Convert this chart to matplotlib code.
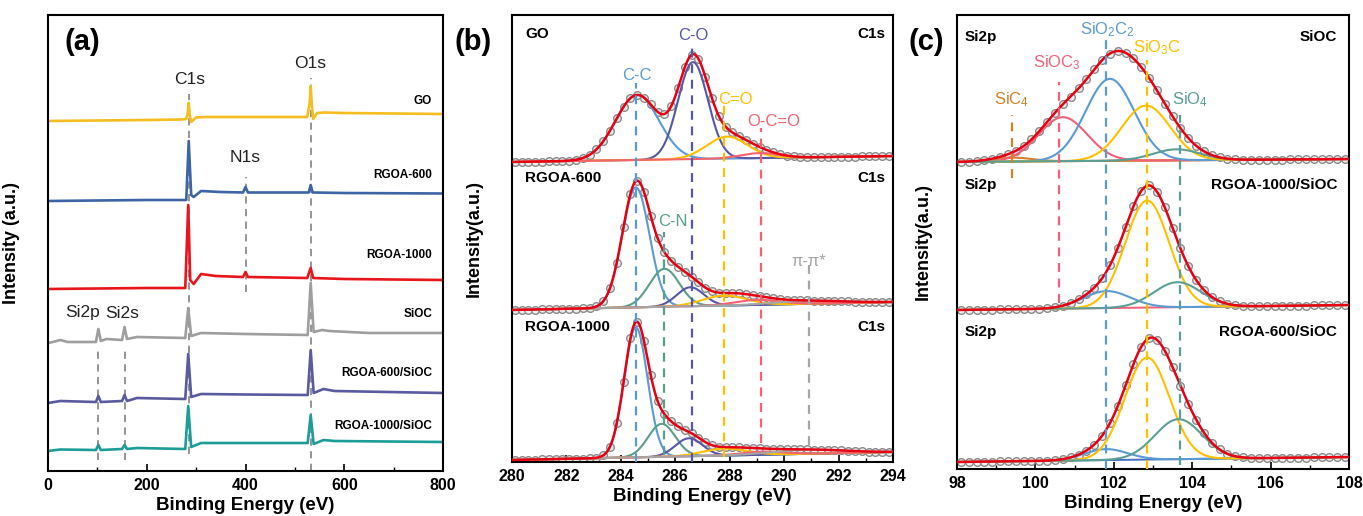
import numpy as np
import matplotlib
matplotlib.use("Agg")
import matplotlib.pyplot as plt
from matplotlib.ticker import MultipleLocator

plt.rcParams["font.family"] = ["Liberation Sans", "DejaVu Sans"]
plt.rcParams["mathtext.default"] = "regular"

# ---------------- (a) survey spectra (intensity in arbitrary units) ----------------
SURVEY_NAMES = ["GO", "RGOA-600", "RGOA-1000", "SiOC", "RGOA-600/SiOC", "RGOA-1000/SiOC"]
SURVEY_COLORS = ["#F5BD1F", "#3D65A5", "#E8161B", "#9E9E9E", "#5A5AA0", "#1C9D97"]
GO_X = [0, 100, 200, 270, 280, 283, 285, 287, 290, 300, 320, 400, 500, 525, 530, 532,
        534, 537, 545, 560, 600, 700, 800]
GO_Y = [350, 350.5, 351, 351.5, 352, 358, 368, 356, 349, 353.5, 354, 354, 354, 354, 368,
        385, 368, 352, 358, 358.5, 358, 357.5, 357]
R600_X = [0, 200, 280, 285, 290, 295, 310, 350, 395, 400, 405, 528, 532, 536, 600, 800]
R600_Y = [270, 271, 271, 330, 276, 274, 280, 279, 278.5, 284, 278.5, 278.5, 286, 278.5,
          278, 277.5]
R1000_X = [0, 200, 278, 284, 288, 295, 310, 340, 395, 400, 405, 525, 532, 537, 600, 800]
R1000_Y = [182, 183, 183, 266, 191, 187, 197, 195, 194, 199, 194, 193, 203, 193, 192, 191]
SIOC_X = [0, 10, 25, 40, 97, 102, 107, 118, 150, 155, 160, 180, 278, 284, 290, 310, 400,
          526, 532, 538, 555, 570, 650, 800]
SIOC_Y = [128, 129, 131, 129, 129, 142, 130, 132, 131, 144, 132, 134, 133, 163, 135, 138,
          137, 136, 188, 139, 141, 140, 138, 138]
R600S_X = [0, 25, 97, 102, 107, 150, 155, 160, 180, 278, 284, 290, 310, 400, 526, 532,
           538, 558, 580, 800]
R600S_Y = [68, 70, 69, 75, 69, 70, 76, 70, 73, 72, 117, 74, 77, 76.5, 76, 121, 78, 82, 80, 78]
R1000S_X = R600S_X
R1000S_Y = [20, 21.5, 21, 26, 21, 22, 26, 22, 23, 22, 65, 24, 28, 28, 28, 56, 27, 31, 30, 29]
SURVEY_X = [GO_X, R600_X, R1000_X, SIOC_X, R600S_X, R1000S_X]
SURVEY_Y = [GO_Y, R600_Y, R1000_Y, SIOC_Y, R600S_Y, R1000S_Y]
SURVEY_LABEL_Y = [370, 296, 216, 157, 98, 45]
# element markers: name, energy, dashed line (top, bottom), label position
A_MARK_NAMES = ["C1s", "O1s", "N1s", "Si2p", "Si2s"]
A_MARK_E = [285, 533, 400, 101, 155]
A_MARK_TOP = [377, 393, 294, 121, 121]
A_MARK_BOT = [17, 0, 179, 11, 11]
A_LABEL_X = [287, 530, 399, 69, 150]
A_LABEL_Y = [391, 408, 313, 158, 158]

# ---------------- (b) C1s fits ----------------
B_PEAKS = ["C-C", "C-N", "C-O", "C=O", "O-C=O", "π-π*"]
B_COLORS = ["#5B9BD5", "#5A9E8C", "#5757A8", "#FFC000", "#F5636E", "#A6A6A6"]
B_SAMPLES = ["GO", "RGOA-600", "RGOA-1000"]
GO_C_CENTER = [284.6, 285.6, 286.65, 287.9, 289.1, 290.9]
GO_C_HEIGHT = [65, 0, 97, 22, 5, 0]
GO_C_SIGMA = [0.8, 0.55, 0.55, 0.75, 0.7, 1.2]
GO_C_BASE = [300, 306]
R600_C_CENTER = [284.55, 285.6, 286.55, 287.8, 289.0, 290.9]
R600_C_HEIGHT = [120, 38, 19, 10, 5, 3]
R600_C_SIGMA = [0.5, 0.55, 0.5, 0.8, 0.8, 1.2]
R600_C_BASE = [152, 160]
R1000_C_CENTER = [284.55, 285.5, 286.5, 287.8, 289.2, 290.9]
R1000_C_HEIGHT = [130, 33, 18, 7, 3, 4]
R1000_C_SIGMA = [0.43, 0.5, 0.5, 0.8, 0.8, 1.3]
R1000_C_BASE = [2, 10]
B_CENTERS = [GO_C_CENTER, R600_C_CENTER, R1000_C_CENTER]
B_HEIGHTS = [GO_C_HEIGHT, R600_C_HEIGHT, R1000_C_HEIGHT]
B_SIGMAS = [GO_C_SIGMA, R600_C_SIGMA, R1000_C_SIGMA]
B_BASES = [GO_C_BASE, R600_C_BASE, R1000_C_BASE]
B_NAME_Y = [428, 284, 135]
B_LINE_E = [284.55, 285.6, 286.6, 287.8, 289.15, 290.9]
B_LINE_TOP = [379, 230, 419, 357, 334, 200]
B_LINE_BOT = [0, 7, 0, 5, 19, 17]
B_LABEL_X = [284.6, 285.9, 286.65, 288.2, 289.6, 290.9]
B_LABEL_Y = [387, 240, 427, 363, 340, 200]

# ---------------- (c) Si2p fits ----------------
C_PEAKS = ["SiC$_4$", "SiOC$_3$", "SiO$_2$C$_2$", "SiO$_3$C", "SiO$_4$"]
C_COLORS = ["#D4812A", "#F2607A", "#5B9BD5", "#FFC000", "#5B9E96"]
C_SAMPLES = ["SiOC", "RGOA-1000/SiOC", "RGOA-600/SiOC"]
SIOC_SI_CENTER = [99.4, 100.7, 101.9, 102.82, 103.6]
SIOC_SI_HEIGHT = [4, 44, 82, 55, 11]
SIOC_SI_SIGMA = [0.5, 0.62, 0.62, 0.62, 0.6]
SIOC_SI_BASE = [307, 310]
R1000S_SI_CENTER = [99.4, 100.7, 101.82, 102.85, 103.62]
R1000S_SI_HEIGHT = [0, 0, 17, 107, 25]
R1000S_SI_SIGMA = [0.5, 0.6, 0.6, 0.56, 0.6]
R1000S_SI_BASE = [159, 164]
R600S_SI_CENTER = [99.4, 100.7, 101.8, 102.85, 103.65]
R600S_SI_HEIGHT = [0, 0, 11, 102, 40]
R600S_SI_SIGMA = [0.5, 0.6, 0.55, 0.57, 0.6]
R600S_SI_BASE = [7, 12]
C_CENTERS = [SIOC_SI_CENTER, R1000S_SI_CENTER, R600S_SI_CENTER]
C_HEIGHTS = [SIOC_SI_HEIGHT, R1000S_SI_HEIGHT, R600S_SI_HEIGHT]
C_SIGMAS = [SIOC_SI_SIGMA, R1000S_SI_SIGMA, R600S_SI_SIGMA]
C_BASES = [SIOC_SI_BASE, R1000S_SI_BASE, R600S_SI_BASE]
C_BASE_COLORS = ["#D4812A", "#F2607A", "#4472C4"]
C_NAME_Y = [432, 284, 137]
C_LINE_E = [99.4, 100.6, 101.8, 102.85, 103.7]
C_LINE_TOP = [354, 387, 432, 409, 354]
C_LINE_BOT = [291, 166, 0, 0, 4]
C_LABEL_X = [99.4, 100.55, 101.83, 103.1, 103.95]
C_LABEL_Y = [369, 406, 439, 421, 369]

ENV_RED = "#E60012"
DASH = (0, (4, 3))
W, H = 1363, 516


def gauss(x, c, h, s):
    return h * np.exp(-(x - c) ** 2 / (2 * s ** 2))


def style_axes(ax, xlim, ylim, major, minor, ylabel, lab_x):
    ax.set_xlim(*xlim)
    ax.set_ylim(*ylim)
    ax.set_yticks([])
    ax.xaxis.set_major_locator(MultipleLocator(major))
    ax.xaxis.set_minor_locator(MultipleLocator(minor))
    ax.tick_params(axis="x", which="both", direction="in", top=False)
    ax.tick_params(axis="x", which="major", length=5, width=1.2, labelsize=11.5, pad=5)
    ax.tick_params(axis="x", which="minor", length=3, width=1.0)
    for lab in ax.get_xticklabels():
        lab.set_fontweight("bold")
    for sp in ax.spines.values():
        sp.set_linewidth(1.5)
    ax.set_xlabel("Binding Energy (eV)", fontsize=13.5, fontweight="bold", labelpad=3)
    ax.set_ylabel(ylabel, fontsize=13, fontweight="bold")
    ax.yaxis.set_label_coords(lab_x, 0.5)


def draw_fit(ax, x, xd, centers, heights, sigmas, base, colors, base_color=None):
    bl = np.interp(x, [x[0], x[-1]], base)
    bld = np.interp(xd, [x[0], x[-1]], base)
    env = np.zeros_like(x)
    envd = np.zeros_like(xd)
    for c, h, s in zip(centers, heights, sigmas):
        env += gauss(x, c, h, s)
        envd += gauss(xd, c, h, s)
    ax.plot(xd, bld + envd, "o", ms=5.5, mfc="#EEEEEE", mec="#8A8A8A", mew=1.0, zorder=2)
    if base_color:
        ax.plot(x, bl, color=base_color, lw=1.4, zorder=3)
    for c, h, s, col in zip(centers, heights, sigmas, colors):
        if h > 0:
            ax.plot(x, bl + gauss(x, c, h, s), color=col, lw=1.5, zorder=3)
    ax.plot(x, bl + env, color=ENV_RED, lw=1.8, zorder=4)


fig = plt.figure(figsize=(W / 100, H / 100), dpi=100)
axA = fig.add_axes([48 / W, 1 - 471 / H, 395 / W, 456 / H])
axB = fig.add_axes([512 / W, 1 - 462 / H, 381 / W, 447 / H])
axC = fig.add_axes([957 / W, 1 - 469 / H, 392 / W, 454 / H])

# ---- (a)
for e, top, bot in zip(A_MARK_E, A_MARK_TOP, A_MARK_BOT):
    axA.plot([e, e], [bot, top], color="#8C8C8C", lw=1.3, ls=DASH, zorder=1)
for xs, ys, col in zip(SURVEY_X, SURVEY_Y, SURVEY_COLORS):
    axA.plot(xs, ys, color=col, lw=1.9, zorder=2)
for name, yl in zip(SURVEY_NAMES, SURVEY_LABEL_Y):
    axA.text(778, yl, name, ha="right", va="center", fontsize=8.5, fontweight="bold")
for name, lx, ly in zip(A_MARK_NAMES, A_LABEL_X, A_LABEL_Y):
    axA.text(lx, ly, name, ha="center", va="center", fontsize=12.5, color="#222222")
style_axes(axA, (0, 800), (0, 456), 200, 100, "Intensity (a.u.)", -0.071)

# ---- (b)
xb = np.linspace(280, 294, 800)
xbd = np.arange(280.1, 294.0, 0.25)
for e, top, bot, col in zip(B_LINE_E, B_LINE_TOP, B_LINE_BOT, B_COLORS):
    axB.plot([e, e], [bot, top], color=col, lw=1.6, ls=DASH, zorder=5)
for cen, hei, sig, base in zip(B_CENTERS, B_HEIGHTS, B_SIGMAS, B_BASES):
    draw_fit(axB, xb, xbd, cen, hei, sig, base, B_COLORS)
for name, lx, ly, col in zip(B_PEAKS, B_LABEL_X, B_LABEL_Y, B_COLORS):
    axB.text(lx, ly, name, ha="center", va="center", fontsize=12, color=col)
for name, yl in zip(B_SAMPLES, B_NAME_Y):
    axB.text(0.035, yl, name, transform=axB.get_yaxis_transform(), ha="left", va="center",
             fontsize=11, fontweight="bold")
    axB.text(0.98, yl, "C1s", transform=axB.get_yaxis_transform(), ha="right", va="center",
             fontsize=11, fontweight="bold")
style_axes(axB, (280, 294), (0, 447), 2, 1, "Intensity(a.u.)", -0.076)

# ---- (c)
xc = np.linspace(98, 108, 800)
xcd = np.arange(98.1, 108.0, 0.2)
for e, top, bot, col in zip(C_LINE_E, C_LINE_TOP, C_LINE_BOT, C_COLORS):
    axC.plot([e, e], [bot, top], color=col, lw=1.6, ls=DASH, zorder=5)
for cen, hei, sig, base, bc in zip(C_CENTERS, C_HEIGHTS, C_SIGMAS, C_BASES, C_BASE_COLORS):
    draw_fit(axC, xc, xcd, cen, hei, sig, base, C_COLORS, base_color=bc)
for name, lx, ly, col in zip(C_PEAKS, C_LABEL_X, C_LABEL_Y, C_COLORS):
    axC.text(lx, ly, name, ha="center", va="center", fontsize=12, color=col)
for name, yl in zip(C_SAMPLES, C_NAME_Y):
    axC.text(0.02, yl, "Si2p", transform=axC.get_yaxis_transform(), ha="left", va="center",
             fontsize=11, fontweight="bold")
    axC.text(0.97, yl, name, transform=axC.get_yaxis_transform(), ha="right", va="center",
             fontsize=11, fontweight="bold")
style_axes(axC, (98, 108), (0, 454), 2, 1, "Intensity(a.u.)", -0.064)

for lx, lab in zip([65, 455, 908], ["(a)", "(b)", "(c)"]):
    fig.text(lx / W, 1 - 42 / H, lab, ha="left", va="center", fontsize=21, fontweight="bold")

fig.savefig("out.png", dpi=100)
